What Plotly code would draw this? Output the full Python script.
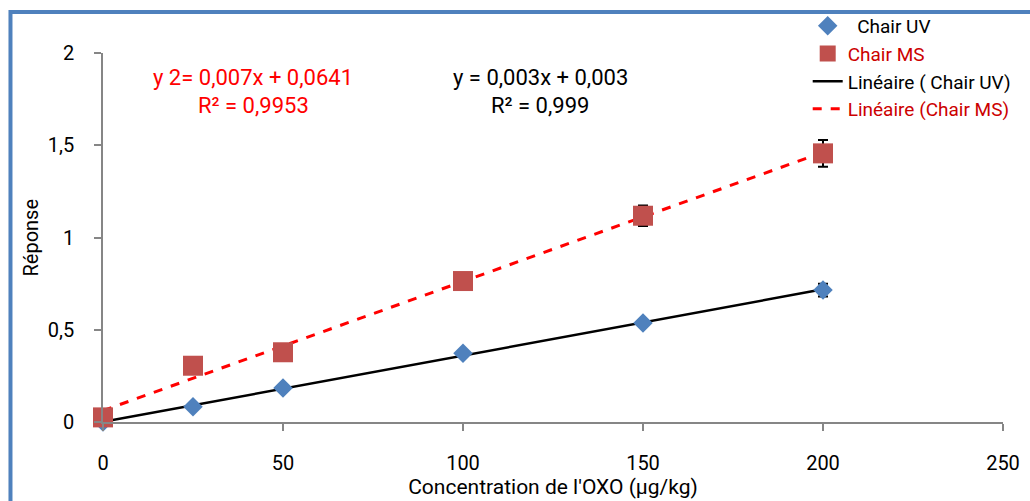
import numpy as np
import plotly.graph_objects as go

# Data
conc = [0, 25, 50, 100, 150, 200]
uv = [0.0, 0.083, 0.184, 0.372, 0.537, 0.715]
uv_err = [0, 0, 0, 0.01, 0.015, 0.035]
ms = [0.025, 0.305, 0.378, 0.764, 1.118, 1.456]
ms_err = [0, 0, 0, 0.01, 0.055, 0.072]

x_ticks = [0, 50, 100, 150, 200, 250]
y_ticks = [0, 0.5, 1, 1.5, 2]
y_tick_labels = ["0", "0,5", "1", "1,5", "2"]

FONT = "Roboto, sans-serif"
BLUE = "#4F81BD"
RED_M = "#C0504D"

# linear trend lines
p_uv = np.polyfit(conc, uv, 1)
p_ms = np.polyfit(conc, ms, 1)
xfit = [0, 200]

fig = go.Figure()
fig.add_trace(go.Scatter(
    x=xfit, y=[p_uv[1] + p_uv[0] * v for v in xfit], mode="lines",
    name="Linéaire ( Chair UV)", line=dict(color="black", width=2.5),
    legendrank=3,
))
fig.add_trace(go.Scatter(
    x=xfit, y=[p_ms[1] + p_ms[0] * v for v in xfit], mode="lines",
    name="<span style='color:#CC0000'>Linéaire (Chair MS)</span>",
    line=dict(color="#FF0000", width=3, dash="dash"),
    legendrank=4,
))
fig.add_trace(go.Scatter(
    x=conc, y=uv, mode="markers", name="  Chair UV",
    marker=dict(symbol="diamond", size=15, color=BLUE),
    error_y=dict(type="data", array=uv_err, color="black", thickness=2, width=5),
    cliponaxis=False, legendrank=1,
))
fig.add_trace(go.Scatter(
    x=conc, y=ms, mode="markers", name="<span style='color:#CC0000'>Chair MS</span>",
    marker=dict(symbol="square", size=20, color=RED_M),
    error_y=dict(type="data", array=ms_err, color="black", thickness=2, width=5),
    cliponaxis=False, legendrank=2,
))

axis_color = "#868686"
fig.update_xaxes(
    range=[0, 250], tickvals=x_ticks, showgrid=False, zeroline=False,
    showline=True, linecolor=axis_color, linewidth=1.5,
    ticks="outside", ticklen=7, tickcolor=axis_color, tickwidth=1.5,
    tickfont=dict(size=20, color="black", family=FONT),
    ticklabelstandoff=15,
    title=dict(text="Concentration de l'OXO (µg/kg)", font=dict(size=21, color="black", family=FONT), standoff=0),
)
fig.update_yaxes(
    range=[0, 2], tickvals=y_ticks, ticktext=y_tick_labels, showgrid=False, zeroline=False,
    showline=True, linecolor=axis_color, linewidth=1.5,
    ticks="outside", ticklen=7, tickcolor=axis_color, tickwidth=1.5,
    tickfont=dict(size=20, color="black", family=FONT),
    ticklabelstandoff=16,
)

# y-axis title as a rotated annotation
fig.add_annotation(x=-0.0811, y=0.5, xref="paper", yref="paper", text="Réponse",
                   textangle=-90, showarrow=False, xanchor="center", yanchor="middle",
                   font=dict(size=20, color="black", family=FONT))

fig.add_annotation(x=41.7, y=1.865, text="y 2= 0,007x + 0,0641", showarrow=False,
                   font=dict(size=22, color="#FF0000", family=FONT))
fig.add_annotation(x=41.7, y=1.718, text="R² = 0,9953", showarrow=False,
                   font=dict(size=22, color="#FF0000", family=FONT))
fig.add_annotation(x=121.4, y=1.865, text="y = 0,003x + 0,003", showarrow=False,
                   font=dict(size=22, color="black", family=FONT))
fig.add_annotation(x=121.4, y=1.718, text="R² = 0,999", showarrow=False,
                   font=dict(size=22, color="black", family=FONT))

# outer blue frame of the chart area
fig.add_shape(type="rect", xref="paper", yref="paper",
              x0=-0.1028, y0=-0.5, x1=1.2, y1=1.111,
              line=dict(color=BLUE, width=4), fillcolor="rgba(0,0,0,0)", layer="below")

fig.update_layout(
    width=1030, height=501,
    margin=dict(l=103, r=27, t=53, b=79, autoexpand=False),
    paper_bgcolor="white", plot_bgcolor="white",
    font=dict(family=FONT, color="black"),
    showlegend=True,
    legend=dict(x=0.783, y=1.125, xanchor="left", yanchor="top",
                font=dict(size=19, color="black", family=FONT),
                bgcolor="rgba(0,0,0,0)", tracegroupgap=0),
)

fig.write_html("out.html")
